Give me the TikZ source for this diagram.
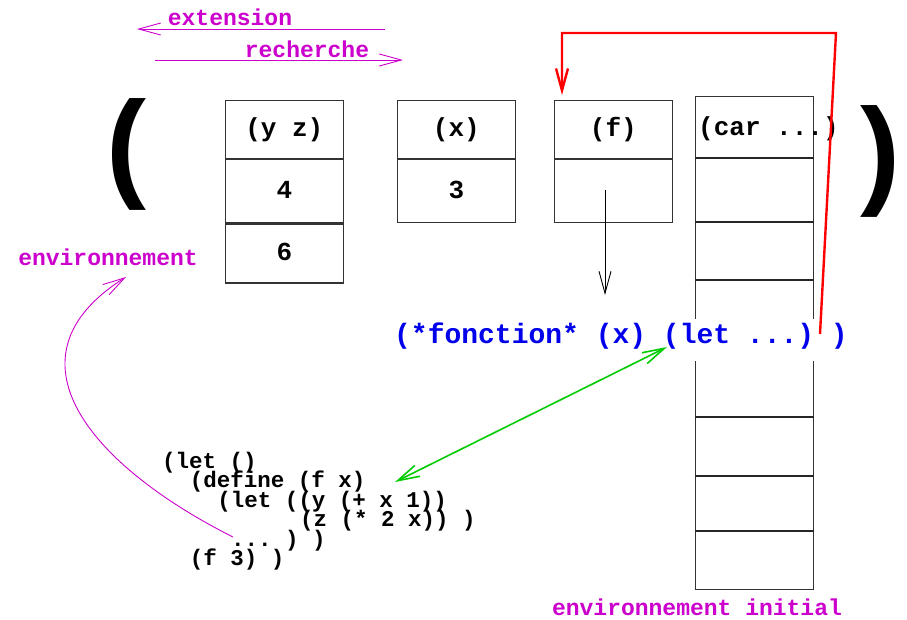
\documentclass[tikz,border=0pt]{standalone}
\usepackage{fontspec}
\setmonofont{Liberation Mono}
\newfontfamily\parenfont{Liberation Sans}
\usetikzlibrary{arrows.meta}

\definecolor{envmagenta}{RGB}{204,0,204}
\definecolor{funblue}{RGB}{0,0,235}
\definecolor{linkgreen}{RGB}{0,204,0}

\tikzset{
  cell/.style={draw=black!80, line width=1.2pt, minimum width=117.5pt, inner sep=0pt,
    text height=19pt, text depth=5pt, font=\ttfamily\bfseries\fontsize{26}{26}\selectfont},
  envtext/.style={text=envmagenta, inner sep=0pt, anchor=base,
    font=\ttfamily\bfseries\fontsize{23}{23}\selectfont},
  codeline/.style={inner sep=0pt, anchor=base west,
    font=\ttfamily\bfseries\fontsize{22.5}{22.5}\selectfont},
  bigparen/.style={inner sep=0pt, font=\parenfont\bfseries\fontsize{120}{120}\selectfont},
}

\begin{document}
\begin{tikzpicture}[x=1pt, y=-1pt, >={Straight Barb[length=22pt,width=12pt]}]
\useasboundingbox (0,0) rectangle (907,619);

% search / extension direction
\node[envtext] (ext) at (230,25) {extension};
\coordinate (extR) at (385,29);
\coordinate (extL) at (137,29);
\draw[envmagenta, line width=0.9pt, ->] (extR) -- (extL);
\node[envtext] (rech) at (307,57) {recherche};
\coordinate (rechL) at (155,60);
\coordinate (rechR) at (403,60);
\draw[envmagenta, line width=0.9pt, ->] (rechL) -- (rechR);

% the frames
\node[bigparen] (lpar) at (126,154) {(};
\node[bigparen] (rpar) at (880,161) {)};

\node[cell, minimum height=58pt, anchor=north west] (yzhead) at (225,100) {(y z)};
\node[cell, minimum height=63pt, anchor=north] (yzval) at (yzhead.south) {4};
\node[cell, minimum height=59pt, anchor=north] (yzval2) at (yzval.south) {6};

\node[cell, minimum height=58pt, anchor=north west] (xhead) at (397,100) {(x)};
\node[cell, minimum height=63pt, anchor=north] (xval) at (xhead.south) {3};

\node[cell, minimum height=58pt, anchor=north west] (fhead) at (554,100) {(f)};
\node[cell, minimum height=63pt, anchor=north] (fval) at (fhead.south) {};

% initial environment
\node[cell, minimum height=493pt, anchor=north west] (init) at (695,96) {};
\foreach \y in {158,222,280,417,476,531}
  \draw[black!85, line width=1.1pt] (init.west |- 0,\y) -- (init.east |- 0,\y);
\node[codeline, font=\ttfamily\bfseries\fontsize{26}{26}\selectfont] (car) at (698,135) {(car ...)};

\node[envtext] (env) at (108,265) {environnement};
\node[envtext] (envinit) at (697,615) {environnement initial};

% closure
\coordinate (fptr) at (605,190);
\coordinate (funtop) at (605,295);
\draw[line width=0.9pt, ->] (fptr) -- (funtop);

\node[fill=white, inner xsep=3pt, inner ysep=4pt, text height=20pt, text depth=14pt,
  anchor=base, text=funblue, font=\ttfamily\bfseries\fontsize{28}{28}\selectfont]
  (fun) at (621,343) {(*fonction* (x) (let ...) )};

% program text
\foreach \col/\txt [count=\i] in {0/{(let ()}, 2/{(define (f x)}, 4/{(let ((y (+ x 1))},
    10/{(z (* 2 x)) )}, 5/{... ) )}, 2/{(f 3) )}}
  \node[codeline] (code\i) at ({162+13.8*\col},{468+19.5*(\i-1)}) {\txt};

\coordinate (defx) at (395,482);
\coordinate (letbody) at (667,347);
\draw[linkgreen, line width=1.6pt, <->] (defx) -- (letbody);

\coordinate (callpt) at (233,537);
\coordinate (envpt) at (126,277);
\draw[envmagenta, line width=0.9pt, ->] (callpt) .. controls (90,465) and (-1,357) .. (envpt);

\coordinate (redstart) at (820,334);
\coordinate (fentry) at (562,95);
\draw[red, line width=2.4pt, ->] (redstart) -- (836,33) -- (fentry |- 0,33) -- (fentry);
\end{tikzpicture}
\end{document}
